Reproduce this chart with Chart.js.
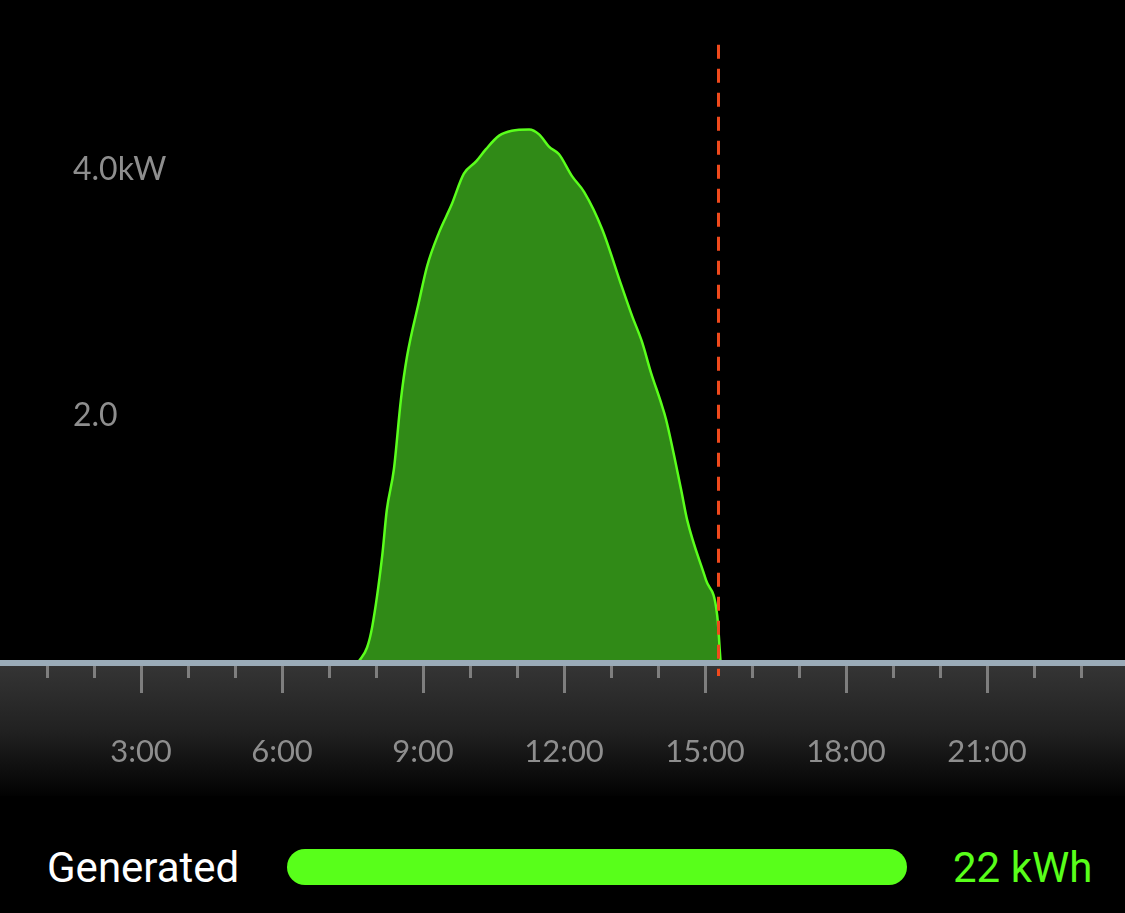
<!DOCTYPE html>
<html>
<head>
<meta charset="utf-8">
<script src="https://cdn.jsdelivr.net/npm/chart.js@4/dist/chart.umd.min.js"></script>
<style>
  html, body { margin: 0; padding: 0; background: #000; overflow: hidden; width: 1125px; height: 913px; }
  #wrap { position: absolute; left: 0; top: 0; width: 1125px; height: 800px; }
  #gen-label { position: absolute; left: 47px; top: 843px; font: 42px Roboto, sans-serif; color: #fff; line-height: 50px; }
  #gen-bar { position: absolute; left: 287px; top: 849px; width: 620px; height: 36px; border-radius: 18px; background: #58ff1a; }
  #gen-value { position: absolute; left: 953px; top: 843px; font: 42px Roboto, sans-serif; color: #58ff1a; line-height: 50px; }
</style>
</head>
<body>
<div id="wrap"><canvas id="c"></canvas></div>
<div id="gen-label">Generated</div>
<div id="gen-bar"></div>
<div id="gen-value"></div>
<script>
// ---- data ----
const hours = [7.64, 7.81, 7.92, 8.13, 8.23, 8.38, 8.53, 8.66, 8.91, 9.09, 9.34, 9.60, 9.87, 10.13, 10.34, 10.62, 10.89, 11.26, 11.47, 11.68, 11.89, 12.17, 12.43, 12.81, 13.23, 13.45, 13.66, 13.85, 14.06, 14.17, 14.49, 14.62, 15.02, 15.26, 15.33];
const powerKW = [0, 0.11, 0.28, 0.85, 1.23, 1.56, 2.13, 2.48, 2.92, 3.22, 3.49, 3.71, 3.97, 4.07, 4.17, 4.28, 4.32, 4.33, 4.29, 4.19, 4.13, 3.95, 3.82, 3.52, 3.05, 2.81, 2.60, 2.35, 2.11, 1.97, 1.40, 1.15, 0.66, 0.37, 0];
const xTickLabels = ['3:00', '6:00', '9:00', '12:00', '15:00', '18:00', '21:00'];
const xTickHours = [3, 6, 9, 12, 15, 18, 21];
const yTickLabels = ['2.0', '4.0kW'];
const yTickValues = [2, 4];
const nowHour = 15.28;
const totalLabel = 'Generated';
const totalKWh = 22;

document.getElementById('gen-value').textContent = totalKWh + ' kWh';
document.getElementById('gen-label').textContent = totalLabel;

const points = hours.map((h, i) => ({ x: h, y: powerKW[i] }));

const decor = {
  id: 'decor',
  beforeDraw(chart) {
    const { ctx, chartArea } = chart;
    const top = chartArea.bottom;
    const g = ctx.createLinearGradient(0, top, 0, 796);
    g.addColorStop(0, '#363636');
    g.addColorStop(0.5, '#222222');
    g.addColorStop(1, '#020202');
    ctx.save();
    ctx.fillStyle = g;
    ctx.fillRect(0, top, chart.width, 796 - top);
    ctx.restore();
  },
  afterDatasetsDraw(chart) {
    const { ctx, chartArea, scales } = chart;
    const xs = scales.x, ys = scales.y;
    const base = chartArea.bottom;
    ctx.save();
    // now marker
    const nx = Math.round(xs.getPixelForValue(nowHour)) + 0.5;
    ctx.strokeStyle = '#f04a1c';
    ctx.lineWidth = 3;
    ctx.setLineDash([14, 10]);
    ctx.beginPath();
    ctx.moveTo(nx, ys.getPixelForValue(5.02));
    ctx.lineTo(nx, base + 15);
    ctx.stroke();
    ctx.setLineDash([]);
    // axis line
    ctx.fillStyle = '#9aabb8';
    ctx.fillRect(0, base - 1, chart.width, 6);
    // hour ticks
    ctx.fillStyle = '#7e7e7e';
    for (let h = 1; h < 24; h++) {
      const px = Math.round(xs.getPixelForValue(h));
      const len = h % 3 === 0 ? 27 : 12;
      ctx.fillRect(px - 1, base + 5, 3, len);
    }
    ctx.restore();
  }
};

new Chart(document.getElementById('c'), {
  type: 'line',
  data: {
    datasets: [{
      data: points,
      borderColor: '#5aff1c',
      backgroundColor: '#308a17',
      borderWidth: 2.5,
      fill: 'origin',
      pointRadius: 0,
      cubicInterpolationMode: 'monotone'
    }]
  },
  options: {
    responsive: true,
    maintainAspectRatio: false,
    animation: false,
    layout: { padding: 0 },
    plugins: { legend: { display: false }, tooltip: { enabled: false } },
    scales: {
      x: {
        type: 'linear',
        min: 0,
        max: 1125 / 47,
        afterFit(scale) { scale.height = 139; scale.paddingLeft = 0; scale.paddingRight = 0; },
        afterBuildTicks(scale) { scale.ticks = xTickHours.map(v => ({ value: v })); },
        grid: { display: false },
        border: { display: false },
        ticks: {
          autoSkip: false,
          maxRotation: 0,
          padding: 64,
          color: '#8e8e8e',
          font: { family: 'Lato', size: 31 },
          callback(v) { const i = xTickHours.indexOf(v); return i >= 0 ? xTickLabels[i] : ''; }
        }
      },
      y: {
        min: 0,
        max: 661 / 122.75,
        afterFit(scale) { scale.width = 0; scale.paddingTop = 0; scale.paddingBottom = 0; },
        afterBuildTicks(scale) { scale.ticks = yTickValues.map(v => ({ value: v })); },
        grid: { display: false },
        border: { display: false },
        ticks: {
          mirror: true,
          padding: 73,
          color: '#8e8e8e',
          font: { family: 'Lato', size: 32 },
          callback(v) { const i = yTickValues.indexOf(v); return i >= 0 ? yTickLabels[i] : ''; }
        }
      }
    }
  },
  plugins: [decor]
});
</script>
</body>
</html>
